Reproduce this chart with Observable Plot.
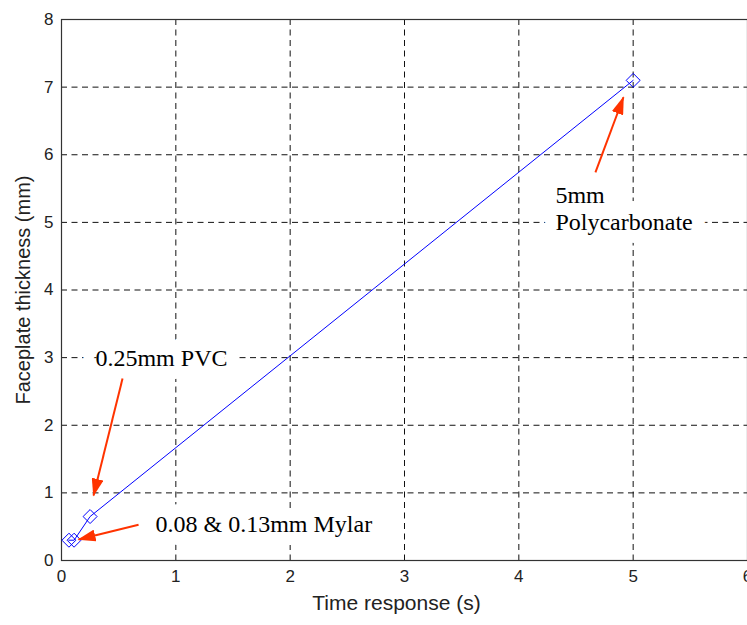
<!DOCTYPE html>
<html>
<head>
<meta charset="utf-8">
<script src="https://cdn.jsdelivr.net/npm/d3@7"></script>
<script src="https://cdn.jsdelivr.net/npm/@observablehq/plot@0.6"></script>
<style>
  html, body { margin: 0; padding: 0; background: white; }
  #chart svg { display: block; }
</style>
</head>
<body>
<div id="chart"></div>
<script>
// ---- data ----
const times = [0.065, 0.11, 0.25, 5.0];        // Time response (s)
const thickness = [0.30, 0.30, 0.65, 7.10];    // Faceplate thickness (mm)
const xTicks = [0, 1, 2, 3, 4, 5, 6];
const yTicks = [0, 1, 2, 3, 4, 5, 6, 7, 8];

const labelTexts = ["0.25mm PVC", "0.08 & 0.13mm Mylar", "5mm\nPolycarbonate"];
const labelX = [0.297, 0.822, 4.32];
const labelY = [3.0, 0.55, 5.21];

const arrowX1 = [0.534, 0.674, 4.67];
const arrowY1 = [2.69, 0.53, 5.74];
const arrowX2 = [0.28, 0.149, 4.915];
const arrowY2 = [0.96, 0.31, 6.85];

const xLabel = "Time response (s)";
const yLabel = "Faceplate thickness (mm)";

// ---- tables built from arrays ----
const points = times.map((t, i) => ({t, h: thickness[i]}));
const labels = labelTexts.map((s, i) => ({s, x: labelX[i], y: labelY[i]}));
const arrows = arrowX1.map((x1, i) => ({x1, y1: arrowY1[i], x2: arrowX2[i], y2: arrowY2[i]}));

// filled triangular arrow head marker
function arrowHead(color) {
  const ns = "http://www.w3.org/2000/svg";
  const m = document.createElementNS(ns, "marker");
  m.setAttribute("viewBox", "-17 -6 18 12");
  m.setAttribute("markerWidth", "18");
  m.setAttribute("markerHeight", "12");
  m.setAttribute("markerUnits", "userSpaceOnUse");
  m.setAttribute("refX", "0");
  m.setAttribute("refY", "0");
  m.setAttribute("orient", "auto");
  const p = document.createElementNS(ns, "path");
  p.setAttribute("d", "M1,0L-17,-6L-17,6Z");
  p.setAttribute("fill", color);
  p.setAttribute("stroke", "none");
  m.appendChild(p);
  return m;
}

const red = "#ff3300";
const blue = "#0000ff";
const fmt = d3.format("d");
const serif = "'Liberation Serif', 'Times New Roman', serif";
const labelOpts = {x: "x", y: "y", text: "s", textAnchor: "start", lineAnchor: "middle",
  fontFamily: serif, fontSize: 24, lineHeight: 1.125};

const plot = Plot.plot({
  width: 747,
  height: 625,
  marginLeft: 61,
  marginRight: 0,
  marginTop: 19,
  marginBottom: 65,
  style: {fontFamily: "'Liberation Sans', Arial, Helvetica, sans-serif", background: "white", color: "#222"},
  x: {domain: [0, 6]},
  y: {domain: [0, 8]},
  marks: [
    Plot.ruleX(xTicks.slice(1, -1), {stroke: "#111", strokeWidth: 1, strokeDasharray: "6,4.5"}),
    Plot.ruleY(yTicks.slice(1, -1), {stroke: "#111", strokeWidth: 1, strokeDasharray: "6,4.5"}),
    Plot.frame({stroke: "#333", strokeWidth: 1.2}),
    Plot.axisX({ticks: xTicks, tickFormat: fmt, tickSize: 0, tickPadding: 9, fontSize: 17, label: null}),
    Plot.axisY({ticks: yTicks, tickFormat: fmt, tickSize: 0, tickPadding: 8, fontSize: 17, label: null}),
    Plot.text([xLabel], {frameAnchor: "bottom", dy: 49, dx: -8, fontSize: 21, textAnchor: "middle", text: d => d}),
    Plot.text([yLabel], {frameAnchor: "left", dx: -38, rotate: -90, fontSize: 20, textAnchor: "middle", text: d => d}),
    Plot.line(points, {x: "t", y: "h", stroke: blue, strokeWidth: 1}),
    Plot.dot(points, {x: "t", y: "h", symbol: "diamond2", r: 6.3, stroke: blue, strokeWidth: 1, fill: "none"}),
    // white background behind annotation texts
    Plot.text(labels, {...labelOpts, fill: "white", stroke: "white", strokeWidth: 26, strokeLinejoin: "round"}),
    Plot.text(labels, {...labelOpts, fill: "#000"}),
    Plot.link(arrows, {x1: "x1", y1: "y1", x2: "x2", y2: "y2", stroke: red, strokeWidth: 2, markerEnd: arrowHead})
  ]
});

document.getElementById("chart").appendChild(plot);
</script>
</body>
</html>
